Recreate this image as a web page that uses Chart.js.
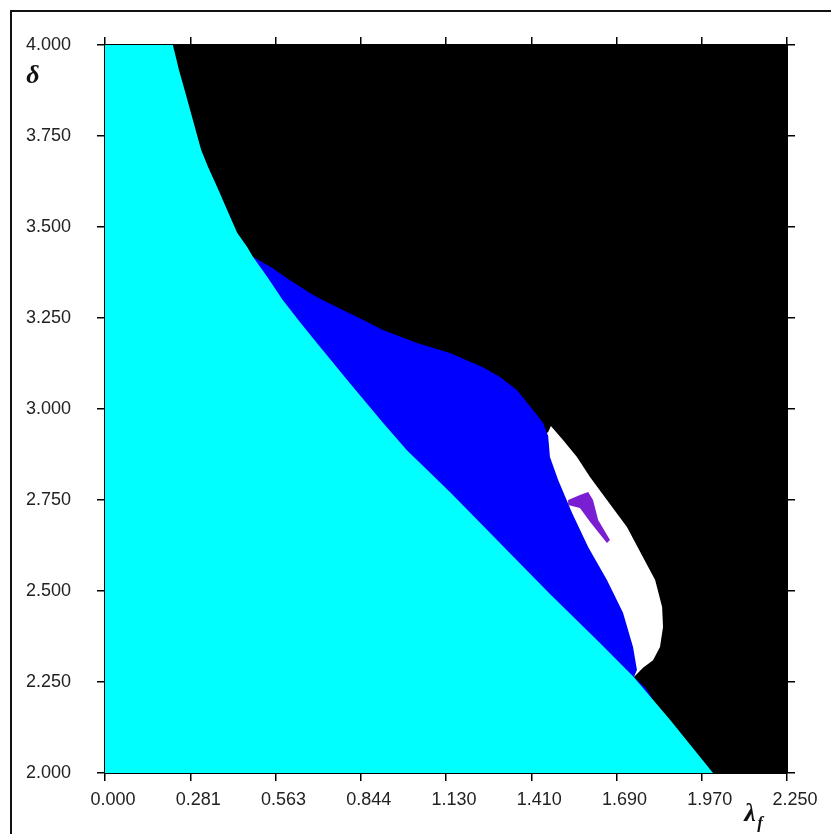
<!DOCTYPE html>
<html>
<head>
<meta charset="utf-8">
<script src="https://cdn.jsdelivr.net/npm/chart.js@4.4.1/dist/chart.umd.min.js"></script>
<style>
  html, body { margin: 0; padding: 0; background: #fff; }
  #wrap { position: relative; width: 831px; height: 834px; overflow: hidden; }
  #frame { position: absolute; left: 10px; top: 10px; width: 900px; height: 900px;
           border-left: 2px solid #111; border-top: 2px solid #111; }
  #regionChart { position: absolute; left: 0; top: 0; }
</style>
</head>
<body>
<div id="wrap">
  <div id="frame"></div>
  <canvas id="regionChart" width="831" height="834"></canvas>
</div>
<script>
// axis ticks (lambda_f on x, delta on y)
let xTickValues = [0, 0.28125, 0.5625, 0.84375, 1.125, 1.40625, 1.6875, 1.96875, 2.25];
let xTickLabels = ["0.000", "0.281", "0.563", "0.844", "1.130", "1.410", "1.690", "1.970", "2.250"];
let yTickValues = [2, 2.25, 2.5, 2.75, 3, 3.25, 3.5, 3.75, 4];
let yTickLabels = ["2.000", "2.250", "2.500", "2.750", "3.000", "3.250", "3.500", "3.750", "4.000"];

// cyan region (lower left)
let cyanLambda = [0, 0.224, 0.244, 0.267, 0.290, 0.317, 0.340, 0.370, 0.403, 0.436, 0.469, 0.488, 0.535, 0.587, 0.643, 0.699, 0.808, 0.917, 0.996, 1.138, 1.303, 1.468, 1.633, 1.742, 1.864, 2.006, 0];
let cyanDelta  = [4, 4.000, 3.931, 3.863, 3.794, 3.712, 3.665, 3.610, 3.547, 3.484, 3.445, 3.418, 3.363, 3.299, 3.239, 3.181, 3.071, 2.962, 2.887, 2.772, 2.632, 2.492, 2.357, 2.266, 2.146, 2.000, 2];

// blue band
let blueLambda = [0.488, 0.554, 0.610, 0.676, 0.719, 0.785, 0.851, 0.917, 1.029, 1.138, 1.247, 1.303, 1.359, 1.412, 1.445, 1.462, 1.468, 1.495, 1.541, 1.594, 1.656, 1.709, 1.742, 1.755, 1.745, 1.785, 1.805, 1.765, 0.643, 0.462];
let blueDelta  = [3.418, 3.387, 3.354, 3.319, 3.299, 3.272, 3.245, 3.217, 3.181, 3.154, 3.115, 3.088, 3.052, 2.997, 2.962, 2.926, 2.868, 2.805, 2.714, 2.621, 2.530, 2.440, 2.346, 2.283, 2.264, 2.232, 2.205, 2.198, 2.970, 3.382];

// white pocket
let whiteLambda = [1.462, 1.471, 1.511, 1.557, 1.600, 1.656, 1.722, 1.775, 1.815, 1.838, 1.841, 1.831, 1.808, 1.775, 1.745, 1.666, 1.429];
let whiteDelta  = [2.937, 2.953, 2.915, 2.868, 2.813, 2.750, 2.676, 2.593, 2.530, 2.456, 2.401, 2.346, 2.310, 2.289, 2.264, 2.365, 2.915];

// purple streak inside the white pocket
let purpleLambda = [1.528, 1.567, 1.594, 1.610, 1.627, 1.666, 1.656, 1.600, 1.567, 1.528];
let purpleDelta  = [2.750, 2.764, 2.772, 2.750, 2.695, 2.640, 2.632, 2.690, 2.728, 2.736];

function toPoints(xs, ys) {
    return xs.map((x, i) => ({ x: x, y: ys[i] }));
}

function region(label, xs, ys, color, order) {
    return {
        label: label,
        data: toPoints(xs, ys),
        fill: 'shape',
        backgroundColor: color,
        borderWidth: 0,
        pointRadius: 0,
        pointHoverRadius: 0,
        tension: 0,
        order: order
    };
}

// black background inside the plot
const plotBackground = {
    id: 'plotBackground',
    beforeDatasetsDraw(chart) {
        const { ctx, chartArea } = chart;
        ctx.save();
        ctx.fillStyle = '#000';
        ctx.fillRect(chartArea.left, chartArea.top, chartArea.right - chartArea.left, chartArea.bottom - chartArea.top);
        ctx.restore();
    }
};

// axis symbols
const axisSymbols = {
    id: 'axisSymbols',
    afterDraw(chart) {
        const ctx = chart.ctx;
        ctx.save();
        ctx.fillStyle = '#111';
        ctx.textAlign = 'center';
        ctx.textBaseline = 'middle';
        ctx.font = 'bold italic 26px "Liberation Serif", "Times New Roman", serif';
        ctx.fillText('\u03b4', 33, 76);
        ctx.fillText('\u03bb', 750, 814);
        ctx.font = 'bold italic 17px "Liberation Serif", "Times New Roman", serif';
        ctx.fillText('f', 760, 824);
        ctx.restore();
    }
};

function sideAxis(position, min, max, values, size) {
    return {
        type: 'linear',
        position: position,
        min: min,
        max: max,
        afterBuildTicks: (axis) => { axis.ticks = values.map(v => ({ value: v })); },
        afterFit: (axis) => {
            if (axis.isHorizontal()) axis.height = size; else axis.width = size;
        },
        ticks: { display: false },
        grid: { drawOnChartArea: false, drawTicks: true, tickLength: 8, color: '#000', lineWidth: 1.5 },
        border: { display: true, color: '#000', width: 2 }
    };
}

const labelFont = { family: 'Arial, "Liberation Sans", sans-serif', size: 18 };

let ctx = document.getElementById('regionChart').getContext('2d');
let regionChart = new Chart(ctx, {
    type: 'line',
    data: {
        datasets: [
            region('purple', purpleLambda, purpleDelta, '#7a1ed2', 0),
            region('cyan', cyanLambda, cyanDelta, '#00ffff', 1),
            region('blue', blueLambda, blueDelta, '#0000ff', 2),
            region('white', whiteLambda, whiteDelta, '#ffffff', 3)
        ]
    },
    options: {
        responsive: false,
        animation: false,
        devicePixelRatio: 1,
        layout: { padding: 0 },
        plugins: {
            legend: { display: false },
            tooltip: { enabled: false }
        },
        scales: {
            x: {
                type: 'linear',
                position: 'bottom',
                min: 0,
                max: 2.25,
                afterBuildTicks: (axis) => { axis.ticks = xTickValues.map(v => ({ value: v })); },
                afterFit: (axis) => { axis.height = 61; },
                ticks: {
                    callback: (value, index) => xTickLabels[index],
                    font: labelFont,
                    color: '#222',
                    padding: 8,
                    labelOffset: 8,
                    maxRotation: 0,
                    autoSkip: false
                },
                grid: { drawOnChartArea: false, drawTicks: true, tickLength: 8, color: '#000', lineWidth: 1.5 },
                border: { display: true, color: '#000', width: 2 }
            },
            y: {
                type: 'linear',
                position: 'left',
                min: 2,
                max: 4,
                afterBuildTicks: (axis) => { axis.ticks = yTickValues.map(v => ({ value: v })); },
                afterFit: (axis) => { axis.width = 105; },
                ticks: {
                    callback: (value, index) => yTickLabels[index],
                    font: labelFont,
                    color: '#222',
                    padding: 26,
                    autoSkip: false
                },
                grid: { drawOnChartArea: false, drawTicks: true, tickLength: 8, color: '#000', lineWidth: 1.5 },
                border: { display: true, color: '#000', width: 2 }
            },
            x2: sideAxis('top', 0, 2.25, xTickValues, 45),
            y2: sideAxis('right', 2, 4, yTickValues, 44)
        }
    },
    plugins: [plotBackground, axisSymbols]
});
</script>
</body>
</html>
